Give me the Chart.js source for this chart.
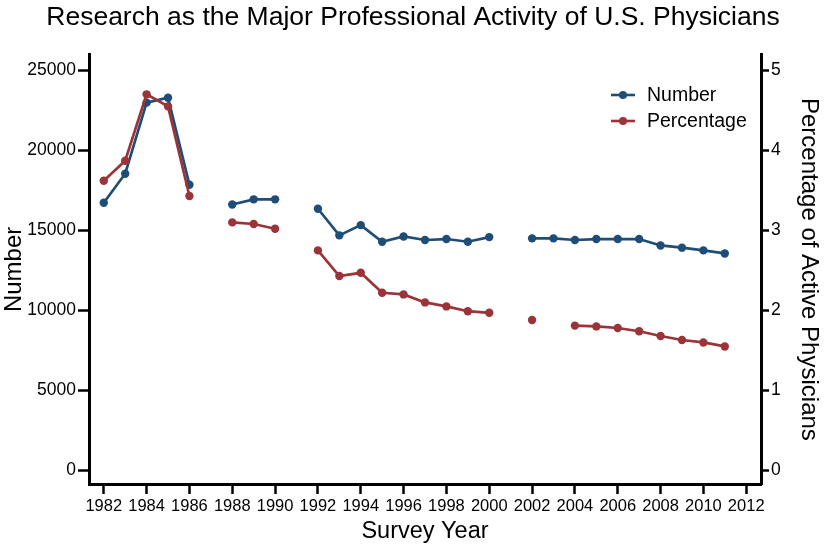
<!DOCTYPE html>
<html>
<head>
<meta charset="utf-8">
<script src="https://cdn.jsdelivr.net/npm/chart.js@4.4.1/dist/chart.umd.min.js"></script>
<style>
  html, body { margin: 0; padding: 0; background: #ffffff; }
  #wrap { width: 826px; height: 549px; }
</style>
</head>
<body>
<div id="wrap"><canvas id="c" width="826" height="549"></canvas></div>
<script>
const chartTitle = 'Research as the Major Professional Activity of U.S. Physicians';
const years = [1982,1983,1984,1985,1986,1987,1988,1989,1990,1991,1992,1993,1994,1995,1996,1997,1998,1999,2000,2001,2002,2003,2004,2005,2006,2007,2008,2009,2010,2011];
const numberValues = [16730,18540,22980,23290,17850,null,16620,16940,16940,null,16350,14690,15330,14290,14620,14400,14460,14290,14580,null,14500,14500,14400,14460,14460,14460,14060,13920,13750,13560];
const percentValues = [3.62,3.87,4.70,4.55,3.43,null,3.10,3.08,3.02,null,2.75,2.43,2.47,2.22,2.20,2.10,2.05,1.99,1.97,null,1.88,null,1.81,1.80,1.78,1.74,1.68,1.63,1.60,1.55];
const xTicks = [1982,1984,1986,1988,1990,1992,1994,1996,1998,2000,2002,2004,2006,2008,2010,2012];
const leftTicks = [0,5000,10000,15000,20000,25000];
const rightTicks = [0,1,2,3,4,5];
const seriesNames = ['Number','Percentage'];

const BLUE = '#1e4d78';
const RED = '#9b3439';
const FONT = "'Liberation Sans', Arial, Helvetica, sans-serif";

const toPoints = vals => years.map((y, i) => ({ x: y, y: vals[i] }));

const insideLegend = {
  id: 'insideLegend',
  afterDatasetsDraw(chart) {
    const ctx = chart.ctx;
    ctx.save();
    chart.data.datasets.forEach((ds, i) => {
      const y = 95 + i * 26;
      ctx.strokeStyle = ds.borderColor;
      ctx.lineWidth = 2.6;
      ctx.beginPath();
      ctx.moveTo(611, y);
      ctx.lineTo(635, y);
      ctx.stroke();
      ctx.fillStyle = ds.backgroundColor;
      ctx.beginPath();
      ctx.arc(623, y, 4, 0, Math.PI * 2);
      ctx.fill();
      ctx.fillStyle = '#000';
      ctx.font = '19.5px ' + FONT;
      ctx.textBaseline = 'middle';
      ctx.textAlign = 'left';
      ctx.fillText(ds.label, 647, y + 1);
    });
    ctx.restore();
  }
};

const xTickFont = { family: FONT, size: 16.5 };
const yTickFont = { family: FONT, size: 17.5 };

new Chart(document.getElementById('c'), {
  type: 'line',
  data: {
    datasets: [
      {
        label: seriesNames[0],
        data: toPoints(numberValues),
        yAxisID: 'y',
        borderColor: BLUE,
        backgroundColor: BLUE,
        borderWidth: 2.7,
        pointRadius: 4.2,
        pointBorderWidth: 0,
        spanGaps: false,
        order: 1
      },
      {
        label: seriesNames[1],
        data: toPoints(percentValues),
        yAxisID: 'y2',
        borderColor: RED,
        backgroundColor: RED,
        borderWidth: 2.7,
        pointRadius: 4.2,
        pointBorderWidth: 0,
        spanGaps: false,
        order: 0
      }
    ]
  },
  options: {
    responsive: false,
    animation: false,
    devicePixelRatio: 1,
    layout: { padding: 0 },
    plugins: {
      legend: { display: false },
      tooltip: { enabled: false },
      title: {
        display: true,
        text: chartTitle,
        color: '#000',
        font: { family: FONT, size: 26.5, weight: 'normal' },
        padding: { top: 2, bottom: 21 }
      }
    },
    scales: {
      x: {
        type: 'linear',
        min: 1981.31,
        max: 2012.69,
        afterBuildTicks: s => { s.ticks = xTicks.map(v => ({ value: v })); },
        afterFit: s => { s.height = 65; },
        ticks: {
          color: '#000', font: xTickFont, padding: 3, maxRotation: 0, autoSkip: false,
          callback: v => String(v)
        },
        grid: { display: true, drawOnChartArea: false, drawTicks: true, tickLength: 10, tickWidth: 2.5, tickColor: '#000' },
        border: { display: true, color: '#000', width: 3 },
        title: {
          display: true, text: 'Survey Year', color: '#000',
          font: { family: FONT, size: 23.5 }, padding: { top: 0, bottom: 3 }
        }
      },
      y: {
        type: 'linear',
        position: 'left',
        min: -844,
        max: 25969,
        afterBuildTicks: s => { s.ticks = leftTicks.map(v => ({ value: v })); },
        afterFit: s => { s.width = 89; },
        ticks: { color: '#000', font: yTickFont, padding: 2, callback: v => String(v) },
        grid: { display: true, drawOnChartArea: false, drawTicks: true, tickLength: 11, tickWidth: 2.5, tickColor: '#000' },
        border: { display: true, color: '#000', width: 3 },
        title: {
          display: true, text: 'Number', color: '#000',
          font: { family: FONT, size: 24 }, padding: { top: 0, bottom: 0 }
        }
      },
      y2: {
        type: 'linear',
        position: 'right',
        min: -0.169,
        max: 5.194,
        afterBuildTicks: s => { s.ticks = rightTicks.map(v => ({ value: v })); },
        afterFit: s => { s.width = 65; },
        ticks: { color: '#000', font: yTickFont, padding: 2, callback: v => String(v) },
        grid: { display: true, drawOnChartArea: false, drawTicks: true, tickLength: 8, tickWidth: 2.5, tickColor: '#000' },
        border: { display: true, color: '#000', width: 3 },
        title: {
          display: true, text: 'Percentage of Active Physicians', color: '#000',
          font: { family: FONT, size: 24 }, padding: { top: 3, bottom: 0 }
        }
      }
    }
  },
  plugins: [insideLegend]
});
</script>
</body>
</html>
